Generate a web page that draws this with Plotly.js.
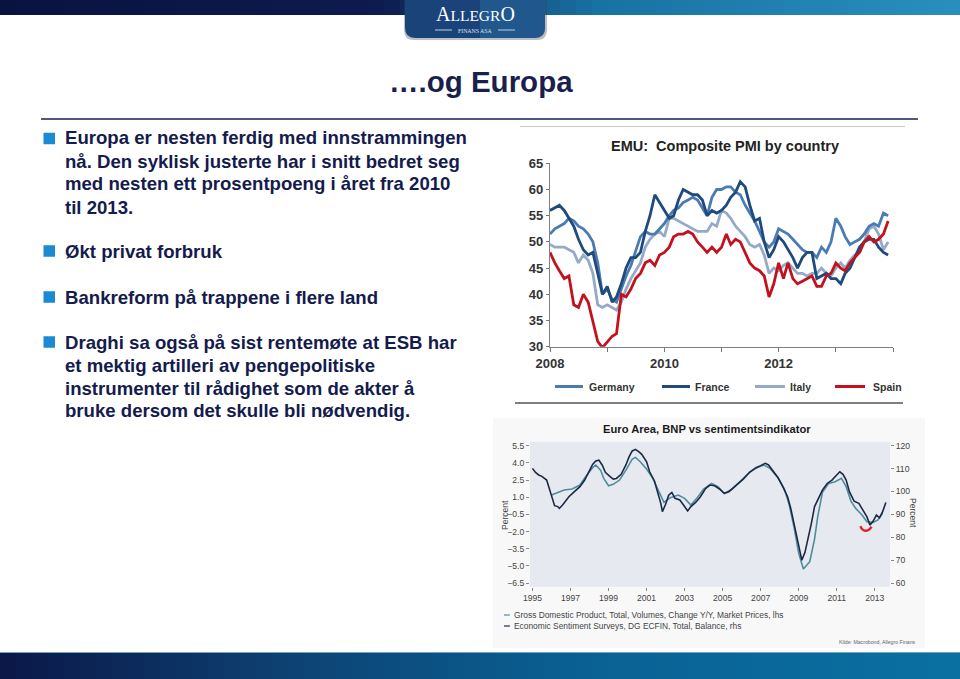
<!DOCTYPE html>
<html>
<head>
<meta charset="utf-8">
<script src="https://cdn.plot.ly/plotly-3.0.1.min.js"></script>
<style>
html,body{margin:0;padding:0;background:#ffffff;}
#chart{width:960px;height:679px;}
</style>
</head>
<body>
<div id="chart"></div>
<script>
// ---------- Chart 1: EMU Composite PMI by country (monthly, Jan 2008 - Dec 2013) ----------
const pmiFirstMonth = '2008-01';
const pmiNames = ['Germany', 'France', 'Italy', 'Spain'];
const germany = [51.5,52.5,53,53.5,54.5,54,53,52.5,51.5,50,46,40,
  41,39,38.5,41,43.5,45.5,48,51,52,51.5,51.5,52.5,
  53.5,55,56,56.5,57.5,58,58.5,58,56.5,55,58.5,60,
  60,60.5,60.5,59.5,59,57,55.5,54,52,50,49,50,
  52.5,52,51.5,50.5,49.5,48.5,48,48,47,49,48,50,
  54.5,53,51,49.5,50,50.5,51.5,53,53.5,53,55.5,55];
const france = [56,56.5,57,56,54.5,53,50.5,48.5,47.5,48,44,40,
  41.5,38.5,39.5,42,45,47,47,48,52,55,59,57.5,
  56,54.5,55,58,60,59.5,59,59,58,55,56,55.5,
  56,57,58.5,59.5,61.5,60.5,57,54,54.5,50,47,48.5,
  51,50,48.5,47,45,47,48,48,43,43.5,44,43,
  43,42,44,45,47,49,50,50.5,50.5,49,48,47.5];
const italy = [49.5,49,49,49,48.5,48,46,47.5,46.5,44,38,37.5,
  38,37.5,37,38.5,41,43,44.5,46,49,50.5,51.5,52,
  51,54.5,54.5,54,53.5,53,52.5,52,52,52,53.5,53,
  56,55.5,54.5,53,52,51,49.5,49,49.5,47.5,44,45,
  44.5,45.5,46,45,44,44,43.5,44,44,45,44,43.5,
  45,46,45,46.5,47.5,48,50,52.5,53,51.5,48.5,50];
const spain = [48,46,44.5,43,43.5,38,37.5,40,38.5,35,31,29.8,
  31,32,32.5,40,39.5,41,43,44,46,46.5,45.5,47.5,
  48,49,51,51.5,51.5,52,51.5,50,49,48,49,48,
  49,51.5,49.5,50.5,50,48,46,45,44.5,43.5,39.5,42,
  46,43,46,43,42,42.5,43,43.5,41.5,41.5,43.5,44,
  46,45,44.5,46,47,48,50,51,50,50.5,51.5,54];
const pmiTickVals = ['2008-01-01','2009-01-01','2010-01-01','2011-01-01','2012-01-01','2013-01-01','2014-01-01'];
const pmiTickText = ['2008','','2010','','2012','',''];

// ---------- Chart 2: Euro Area, GDP vs economic sentiment ----------
const esiDates = ['1995-01','1995-03','1995-05','1995-07','1995-10','1995-12','1996-02','1996-03','1996-05','1996-06',
  '1996-08','1996-10','1996-12','1997-03','1997-07','1997-10','1998-01','1998-03','1998-05','1998-07',
  '1998-09','1998-11','1999-02','1999-04','1999-06','1999-09','1999-12','2000-02','2000-04','2000-06',
  '2000-08','2000-10','2001-01','2001-03','2001-06','2001-08','2001-10','2001-11','2002-01','2002-03',
  '2002-05','2002-07','2002-10','2002-12','2003-03','2003-05','2003-08','2003-11','2004-02','2004-05',
  '2004-08','2004-11','2005-02','2005-05','2005-09','2006-02','2006-06','2006-10','2007-01','2007-04',
  '2007-06','2007-09','2007-12','2008-03','2008-06','2008-08','2008-10','2008-12','2009-02','2009-03',
  '2009-05','2009-07','2009-09','2009-11','2010-02','2010-04','2010-07','2010-10','2011-01','2011-03',
  '2011-05','2011-07','2011-09','2011-12','2012-03','2012-05','2012-08','2012-10','2012-12','2013-02',
  '2013-04','2013-06','2013-08'];
const esiValues = [110.1,108.3,107.2,106.6,105.0,100.6,96.3,93.8,93.4,92.6,
  94.1,95.8,97.7,99.6,102.1,105.0,108.9,111.8,113.3,113.7,
  111.6,108.4,106.5,105.4,105.7,107.5,111.6,115.2,117.7,118.4,
  117.4,116.2,113.0,108.6,104.6,99.9,94.8,91.2,94.4,98.4,
  99.6,97.0,96.3,94.4,91.5,93.4,95.2,97.7,101.1,102.8,
  102.5,101.1,99.2,99.9,102.5,105.4,108.4,110.4,111.3,112.3,
  111.6,108.9,106.0,102.1,97.7,92.6,86.1,78.1,71.5,70.0,
  73.4,79.2,86.1,93.4,97.7,100.6,103.5,105.0,107.2,108.6,
  107.5,105.0,99.9,95.8,94.8,92.3,89.0,85.3,87.1,89.7,
  88.5,91.2,95.2];
const gdpDates = ['1996-01','1996-05','1996-09','1997-02','1997-07','1997-11','1998-03','1998-05','1998-08','1998-10',
  '1999-01','1999-04','1999-08','1999-12','2000-04','2000-06','2000-09','2001-01','2001-05','2001-09',
  '2001-12','2002-04','2002-09','2003-01','2003-05','2003-09','2004-01','2004-06','2004-10','2005-02',
  '2005-07','2006-01','2006-06','2006-10','2007-03','2007-07','2007-12','2008-04','2008-07','2008-10',
  '2009-01','2009-04','2009-08','2009-11','2010-01','2010-04','2010-08','2010-12','2011-04','2011-07',
  '2011-10','2012-01','2012-05','2012-08','2012-12','2013-03','2013-06'];
const gdpValues = [1.19,1.42,1.63,1.71,2.06,2.88,3.58,3.81,3.37,2.65,
  2.0,2.12,2.5,3.37,4.33,4.48,4.1,3.46,2.65,1.42,
  0.55,0.96,1.19,0.9,0.32,0.96,1.71,2.21,1.92,1.33,
  1.71,2.5,3.17,3.52,3.81,3.52,2.7,1.71,0.37,-1.58,
  -3.91,-5.28,-4.64,-2.66,-0.7,1.42,2.21,2.35,2.65,1.92,
  0.66,0.02,-0.56,-1.14,-1.2,-0.99,-0.41];
const arcDates = ['2012-04','2012-05','2012-07','2012-09','2012-11'];
const arcValues = [-1.52,-1.78,-1.93,-1.87,-1.58];
const euroLegend = ['Gross Domestic Product, Total, Volumes, Change Y/Y, Market Prices, lhs',
  'Economic Sentiment Surveys, DG ECFIN, Total, Balance, rhs'];

// ---------- Slide text ----------
const slideTitle = '\u2026.og Europa';
const bulletLines = [
  ['Europa er nesten ferdig med innstrammingen','nå. Den syklisk justerte har i snitt bedret seg','med nesten ett prosentpoeng i året fra 2010','til 2013.'],
  ['Økt privat forbruk'],
  ['Bankreform på trappene i flere land'],
  ['Draghi sa også på sist rentemøte at ESB har','et mektig artilleri av pengepolitiske','instrumenter til rådighet som de akter å','bruke dersom det skulle bli nødvendig.']
];

// ---------- helpers ----------
const W = 960, H = 679;
const X = px => px / W;
const Y = py => 1 - py / H;
function monthList(first, n) {
  const [y0, m0] = first.split('-').map(Number);
  const out = [];
  for (let i = 0; i < n; i++) {
    const t = (m0 - 1) + i;
    const yy = y0 + Math.floor(t / 12), mm = (t % 12) + 1;
    out.push(yy + '-' + String(mm).padStart(2, '0') + '-01');
  }
  return out;
}
function hexToRgb(h){h=h.replace('#','');return [0,2,4].map(i=>parseInt(h.substr(i,2),16));}
function mix(stops, t){
  for (let i=0;i<stops.length-1;i++){
    const [t0,c0]=stops[i],[t1,c1]=stops[i+1];
    if (t<=t1){const f=(t-t0)/(t1-t0);const a=hexToRgb(c0),b=hexToRgb(c1);
      return 'rgb('+a.map((v,k)=>Math.round(v+(b[k]-v)*f)).join(',')+')';}
  }
  return stops[stops.length-1][1];
}
function gradientStrips(x0,x1,y0,y1,stops,n){
  const out=[];const w=(x1-x0)/n;
  for(let i=0;i<n;i++){
    out.push({type:'rect',xref:'paper',yref:'paper',x0:X(x0+i*w),x1:X(x0+(i+1)*w+0.6),y0:Y(y1),y1:Y(y0),
      fillcolor:mix(stops,(i+0.5)/n),line:{width:0},layer:'below'});
  }
  return out;
}
const P = (x,y) => X(x).toFixed(5)+','+Y(y).toFixed(5);

const months = monthList(pmiFirstMonth, germany.length);
const pmiColors = {Germany:'#4a7cb3', France:'#1f4a7e', Italy:'#93abc9', Spain:'#c3121e'};
const pmiSeries = {Germany:germany, France:france, Italy:italy, Spain:spain};

const traces = [];
['Italy','Germany','France','Spain'].forEach(name => {
  traces.push({type:'scatter', mode:'lines', name:name, x:months, y:pmiSeries[name],
    xaxis:'x', yaxis:'y', line:{color:pmiColors[name], width:2.8}, showlegend:false, hoverinfo:'skip'});
});
traces.push({type:'scatter', mode:'lines', name:'GDP', x:gdpDates, y:gdpValues, xaxis:'x2', yaxis:'y2',
  line:{color:'#4f8c9e', width:1.6}, showlegend:false, hoverinfo:'skip'});
traces.push({type:'scatter', mode:'lines', name:'ESI', x:esiDates, y:esiValues, xaxis:'x2', yaxis:'y3',
  line:{color:'#1c2944', width:1.6}, showlegend:false, hoverinfo:'skip'});
traces.push({type:'scatter', mode:'lines', name:'mark', x:arcDates, y:arcValues, xaxis:'x2', yaxis:'y2',
  line:{color:'#e01e2c', width:2.4, shape:'spline'}, showlegend:false, hoverinfo:'skip'});

// ---------- shapes ----------
const shapes = [];
shapes.push(...gradientStrips(0,960,0,15,[[0,'#0a1240'],[0.40,'#0e1b4e'],[0.52,'#13507f'],[0.62,'#1872a2'],[1,'#2a8fbd']],60));
shapes.push(...gradientStrips(0,960,652,679,[[0,'#0b1747'],[0.3,'#0d4273'],[0.6,'#0a6093'],[1,'#0a70a2']],60));
shapes.push({type:'line',xref:'paper',yref:'paper',x0:0,x1:1,y0:Y(652.5),y1:Y(652.5),line:{color:'#6fa6c8',width:1}});
shapes.push({type:'path',xref:'paper',yref:'paper',
  path:'M'+P(404,0)+' L'+P(404,30)+' Q'+P(404,40)+' '+P(414,40)+' L'+P(537,40)+' Q'+P(547,40)+' '+P(547,30)+' L'+P(547,0)+' Z',
  fillcolor:'rgba(60,70,90,0.35)',line:{width:0}});
shapes.push({type:'path',xref:'paper',yref:'paper',
  path:'M'+P(405,0)+' L'+P(405,28)+' Q'+P(405,38)+' '+P(415,38)+' L'+P(535,38)+' Q'+P(545,38)+' '+P(545,28)+' L'+P(545,0)+' Z',
  fillcolor:'#1a4479',line:{width:0}});
shapes.push({type:'path',xref:'paper',yref:'paper',
  path:'M'+P(480,0)+' L'+P(480,38)+' L'+P(535,38)+' Q'+P(545,38)+' '+P(545,28)+' L'+P(545,0)+' Z',
  fillcolor:'rgba(40,110,165,0.45)',line:{width:0}});
shapes.push({type:'line',xref:'paper',yref:'paper',x0:X(435),x1:X(452),y0:Y(30),y1:Y(30),line:{color:'#b8cfe4',width:1}});
shapes.push({type:'line',xref:'paper',yref:'paper',x0:X(498),x1:X(515),y0:Y(30),y1:Y(30),line:{color:'#b8cfe4',width:1}});
shapes.push({type:'line',xref:'paper',yref:'paper',x0:X(41),x1:X(918),y0:Y(119),y1:Y(119),line:{color:'#1b1f4e',width:1.3}});
[138.5, 251, 297, 342].forEach(cy => {
  shapes.push({type:'rect',xref:'paper',yref:'paper',x0:X(43.5),x1:X(55),y0:Y(cy+5.75),y1:Y(cy-5.75),fillcolor:'#1a8ad4',line:{width:0}});
});
shapes.push({type:'line',xref:'paper',yref:'paper',x0:X(520),x1:X(905),y0:Y(126.5),y1:Y(126.5),line:{color:'#c9c9c9',width:1}});
shapes.push({type:'line',xref:'paper',yref:'paper',x0:X(515),x1:X(903),y0:Y(403),y1:Y(403),line:{color:'#555555',width:1.4}});
[['Germany',555,583],['France',662,690],['Italy',755,785],['Spain',835,865]].forEach(([n,a,b]) => {
  shapes.push({type:'line',xref:'paper',yref:'paper',x0:X(a),x1:X(b),y0:Y(386.5),y1:Y(386.5),line:{color:pmiColors[n],width:3}});
});
shapes.push({type:'rect',xref:'paper',yref:'paper',x0:X(493),x1:X(925),y0:Y(648),y1:Y(418),fillcolor:'#f8f8f9',line:{width:0},layer:'below'});
shapes.push({type:'rect',xref:'paper',yref:'paper',x0:X(530),x1:X(890),y0:Y(586.7),y1:Y(441.7),fillcolor:'#e6e9ef',line:{width:0},layer:'below'});
shapes.push({type:'line',xref:'paper',yref:'paper',x0:X(504),x1:X(510),y0:Y(615),y1:Y(615),line:{color:'#4f8c9e',width:1.2}});
shapes.push({type:'line',xref:'paper',yref:'paper',x0:X(504),x1:X(510),y0:Y(626),y1:Y(626),line:{color:'#1c2944',width:1.2}});

// ---------- annotations ----------
const ann = [];
const FONT = 'Liberation Sans, Arial, sans-serif';
const A = (x,y,text,opts) => Object.assign({xref:'paper',yref:'paper',x:X(x),y:Y(y),text:text,showarrow:false,
  xanchor:'left',yanchor:'middle',font:{family:FONT,size:12,color:'#222'}},opts||{});
ann.push(A(475,26.5,"<span style='font-size:20px'>A</span>LLEGR<span style='font-size:20px'>O</span>",
  {xanchor:'center',yanchor:'bottom',borderpad:0,font:{family:'Liberation Serif, DejaVu Serif, serif',size:15.5,color:'#ffffff'}}));
ann.push(A(475,26.8,'FINANS ASA',{xanchor:'center',yanchor:'top',borderpad:0,font:{family:'Liberation Serif, serif',size:5.8,color:'#d6e4f1'}}));
ann.push(A(575,81,'<b>'+slideTitle+'</b>',{xanchor:'right',font:{family:FONT,size:29.5,color:'#1b1f4e'}}));
const bulletY = [[138,161,184,207],[251],[297],[342,365,388,410]];
bulletLines.forEach((lines,i) => lines.forEach((t,j) => {
  ann.push(A(62.5,bulletY[i][j],'<b>'+t+'</b>',{font:{family:FONT,size:18.6,color:'#141b4d'}}));
}));
ann.push(A(725,146,'<b>EMU:  Composite PMI by country</b>',{xanchor:'center',font:{family:FONT,size:14.5,color:'#222'}}));
[['Germany',587],['France',693],['Italy',788],['Spain',871]].forEach(([n,x]) => {
  ann.push(A(x,386.5,'<b>'+n+'</b>',{font:{family:FONT,size:10.5,color:'#333'}}));
});
ann.push(A(707,429,'<b>Euro Area, BNP vs sentimentsindikator</b>',{xanchor:'center',font:{family:FONT,size:11.2,color:'#1a1a1a'}}));
ann.push(A(511.5,615,euroLegend[0],{font:{family:FONT,size:8.4,color:'#444'}}));
ann.push(A(511.5,626,euroLegend[1],{font:{family:FONT,size:8.4,color:'#444'}}));
ann.push(A(918,641.5,'Kilde: Macrobond, Allegro Finans',{xanchor:'right',font:{family:FONT,size:5.2,color:'#666'}}));
ann.push(A(505,515,'Percent',{xanchor:'center',textangle:-90,font:{family:FONT,size:8.5,color:'#444'}}));
ann.push(A(913,513,'Percent',{xanchor:'center',textangle:90,font:{family:FONT,size:8.5,color:'#444'}}));

const layout = {
  width: W, height: H,
  margin: {l:0, r:0, t:0, b:0},
  paper_bgcolor: '#ffffff',
  plot_bgcolor: 'rgba(0,0,0,0)',
  showlegend: false,
  xaxis: {domain:[X(550), X(893)], anchor:'y', type:'date', range:['2008-01-01','2014-01-01'],
    tickmode:'array', tickvals:pmiTickVals, ticktext:pmiTickText, ticks:'outside', ticklen:4, tickcolor:'#777',
    showline:true, linecolor:'#808080', linewidth:1.2, showgrid:false, zeroline:false,
    tickfont:{family:FONT, size:13, color:'#333', weight:'bold'}},
  yaxis: {domain:[Y(346.7), Y(163.3)], anchor:'x', range:[30,65], tick0:30, dtick:5, ticks:'outside', ticklen:3,
    tickcolor:'#777', showline:true, linecolor:'#808080', linewidth:1.2, showgrid:false, zeroline:false,
    tickfont:{family:FONT, size:13, color:'#333', weight:'bold'}},
  xaxis2: {domain:[X(530), X(890)], anchor:'y2', type:'date', range:['1994-11-15','2013-10-20'],
    tick0:'1995-01-01', dtick:'M24', tickformat:'%Y', ticks:'outside', ticklen:3, tickcolor:'#888',
    showline:false, showgrid:false, zeroline:false, tickfont:{family:FONT, size:8.6, color:'#444'}},
  yaxis2: {domain:[Y(586.7), Y(441.7)], anchor:'x2', range:[-6.82,5.85], tick0:-6.5, dtick:1.5, tickformat:'.1f',
    ticks:'outside', ticklen:3, tickcolor:'#888', showline:false, showgrid:false, zeroline:false,
    tickfont:{family:FONT, size:8.6, color:'#444'}},
  yaxis3: {overlaying:'y2', anchor:'x2', side:'right', range:[58.4,121.75], tick0:60, dtick:10,
    ticks:'outside', ticklen:3, tickcolor:'#888', showline:false, showgrid:false, zeroline:false,
    tickfont:{family:FONT, size:8.6, color:'#444'}},
  shapes: shapes,
  annotations: ann
};

Plotly.newPlot('chart', traces, layout, {displayModeBar:false, staticPlot:true});
</script>
</body>
</html>
